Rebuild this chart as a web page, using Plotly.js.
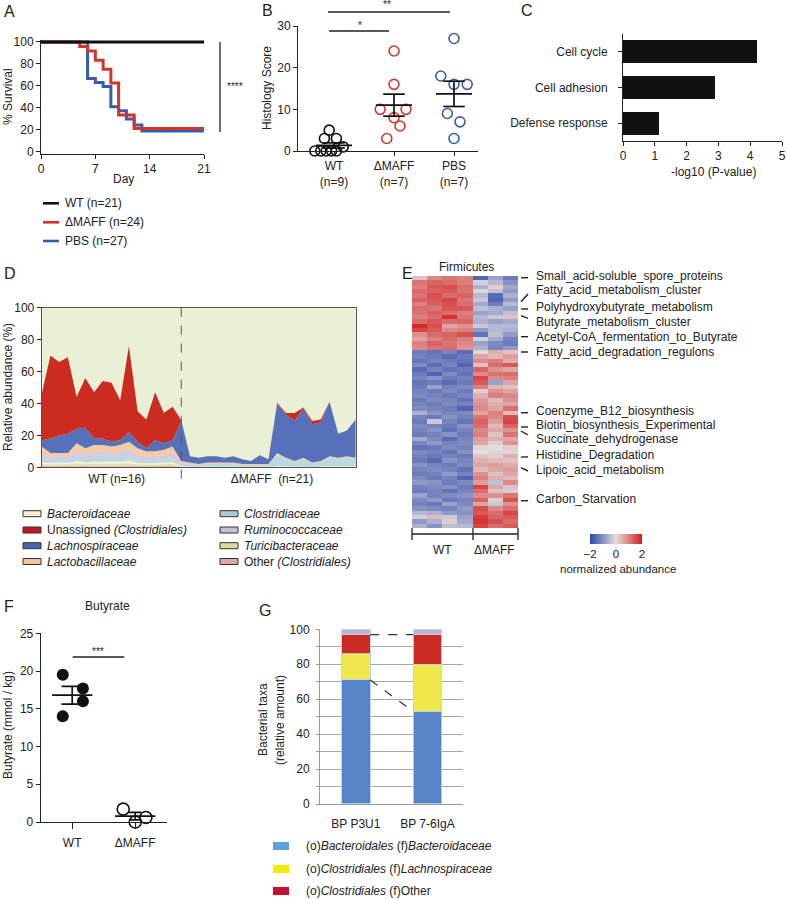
<!DOCTYPE html>
<html><head><meta charset="utf-8">
<script src="https://cdn.plot.ly/plotly-3.0.1.min.js"></script>
<style>html,body{margin:0;padding:0;background:#fff}#g{width:787px;height:900px}</style>
</head><body><div id="g"></div>
<script>
// ---------- DATA ----------
// A: survival (Kaplan-Meier steps)
const survDaysWT = [0, 21];
const survWT = [100, 100];
const survDaysMAFF = [0, 5, 6, 7, 8, 9, 10, 12, 21];
const survMAFF = [100, 95.8, 91.7, 83.3, 75, 62.5, 33.3, 20.8, 20.8];
const survDaysPBS = [0, 6, 7, 8, 9, 10, 11, 12, 13, 21];
const survPBS = [100, 66.7, 63, 59.3, 40.7, 37, 29.6, 24, 18.5, 18.5];
const survLegend = ['WT (n=21)', 'ΔMAFF (n=24)', 'PBS (n=27)'];

// B: histology score
const histCats = ['WT<br>(n=9)', 'ΔMAFF<br>(n=7)', 'PBS<br>(n=7)'];
const histWT = [0, 0, 0, 0, 0, 1, 3, 3, 5];
const histWTjit = [-0.32, -0.22, -0.13, -0.04, 0.04, 0.155, -0.16, 0.04, -0.08];
const histMAFF = [24, 16, 10, 10, 8, 6, 3];
const histMAFFjit = [0, 0, -0.23, 0.2, 0, 0.1, -0.12];
const histPBS = [27, 18, 16, 16, 9, 7, 3];
const histPBSjit = [0, -0.22, 0, 0.22, -0.11, 0.1, 0];

// C: GO terms
const goTerms = ['Cell cycle', 'Cell adhesion', 'Defense response'];
const goLogP = [4.2, 2.88, 1.12];

// D: relative abundance (37 samples: 16 WT + 21 ΔMAFF)
const samples = [0,1,2,3,4,5,6,7,8,9,10,11,12,13,14,15,16,17,18,19,20,21,22,23,24,25,26,27,28,29,30,31,32,33,34,35,36];
const abOther = [1.0,0.8,0.9,0.8,1.0,0.9,1.0,0.8,1.0,0.9,1.1,0.8,0.7,0.8,0.9,1.0,0.4, 0.3,0.2,0.3,0.3,0.3,0.3,0.2,0.2,0.2,0.2,0.4,0.3,0.3,0.3,0.2,0.3,0.4,0.3,0.4,0.3];
const abTurici = [1.2,0.9,1.0,1.1,1.4,1.0,1.3,1.2,1.1,1.3,1.5,1.0,0.9,1.0,1.0,1.2,0.3, 0.2,0.1,0.2,0.2,0.2,0.2,0.1,0.1,0.1,0.1,0.3,0.2,0.2,0.2,0.1,0.2,0.3,0.2,0.3,0.2];
const abBacteroid = [1.0,1.2,1.3,1.0,1.5,1.2,1.4,1.6,1.2,1.4,1.6,1.1,0.9,0.9,1.0,1.1,0.3, 0.2,0.1,0.2,0.2,0.2,0.2,0.1,0.1,0.1,0.1,0.3,0.2,0.2,0.2,0.1,0.2,0.3,0.2,0.3,0.2];
const abClostridiaceae = [2.3,1.8,1.5,1.6,2.6,2.2,2.5,2.8,2.4,2.6,2.9,2.0,1.8,1.9,2.0,2.3,1.0, 1.2,0.8,1.3,1.4,1.3,1.4,0.9,0.9,0.8,0.9,6.8,4.5,2.6,4.4,2.0,2.6,4.6,3.9,4.8,4.1];
const abRumino = [2.5,2.1,2.3,2.2,3.5,2.7,3.6,3.4,3.0,3.3,4.0,2.8,2.4,2.3,2.6,3.0,0.8, 0.1,0.1,0.1,0.1,0.1,0.1,0.1,0.1,0.1,0.1,0.3,0.3,0.2,0.3,0.2,0.2,0.3,0.3,0.3,0.3];
const abLacto = [5.0,2.2,2.0,2.3,5.0,4.0,4.2,4.2,4.3,4.5,4.9,4.3,3.3,3.1,3.5,4.4,1.2, 1.0,0.7,0.9,0.8,0.9,0.8,0.6,0.6,0.7,0.6,0.9,0.5,0.5,0.6,0.4,0.5,1.1,1.1,0.9,0.9];
const abLachno = [4,9,11,12,9,13,4,4,3,3,6,4,2,7,4,4,25, 4,4,4,4,3,4,3,2,5.5,3,31,27,25,31,24,24,34,15,16,24];
const abUnassigned = [29,52,46,48,20,31,29,36,37,25,54,19,18,30,19,21,0.5, 0,0,0,0,0,0,0,0,0,0,0.5,1,5,0.5,2,2,0,0,0,0];
const abGroups = ['WT (n=16)', 'ΔMAFF  (n=21)'];

// E: heatmap (rows x 7 samples: 4 WT, 3 ΔMAFF)
const heatZ = [
[0.3,0.9,1.1,1.0,-1.6,-0.8,-1.3],
[1.1,1.3,1.2,1.0,-0.2,-0.5,-1.0],
[1.0,1.4,1.5,1.2,-0.6,0.2,-0.7],
[1.2,1.3,1.4,1.1,-0.1,-0.4,-0.9],
[1.1,1.5,1.2,1.3,-0.5,-1.5,-0.6],
[1.3,1.4,1.6,1.1,-0.3,-1.6,-0.9],
[1.0,1.3,1.5,1.2,-0.7,-1.3,-0.5],
[1.2,1.1,1.4,1.4,-0.4,-0.6,-0.8],
[1.1,1.3,1.2,1.0,-0.8,-0.7,-0.4],
[1.0,1.2,1.8,1.1,-0.5,-0.3,0.3],
[1.2,1.4,1.2,1.3,-0.6,-0.8,-0.7],
[1.9,1.5,0.6,0.8,-0.3,-0.5,-0.5],
[1.6,1.4,0.9,1.0,-0.9,-0.5,-0.6],
[0.8,1.2,1.3,1.5,-1.4,-0.4,-0.9],
[0.6,1.0,1.2,1.0,-0.2,-0.7,-1.2],
[1.0,1.3,1.1,0.9,-0.8,-1.1,-1.3],
[0.9,1.1,1.2,0.8,-0.6,-1.2,-0.9],
[-1.3,-1.4,-1.2,-1.5,0.1,0.5,0.3],
[-1.2,-1.3,-1.5,-1.3,0.6,0.4,0.7],
[-1.4,-1.2,-1.3,-1.4,0.9,1.0,0.5],
[-1.1,-1.5,-1.2,-1.6,0.3,1.2,1.4],
[-1.5,-1.2,-1.4,-1.3,1.3,0.8,0.6],
[-1.3,-1.6,-1.1,-1.4,0.9,1.1,1.2],
[-1.2,-1.0,-1.3,-1.2,1.6,0.9,1.0],
[-1.4,-1.3,-1.5,-1.3,1.4,-0.8,0.6],
[-1.3,-0.8,-1.2,-1.1,1.0,0.4,0.3],
[-1.2,-1.3,-1.1,-1.3,0.2,0.8,0.6],
[-1.1,-1.2,-1.3,-1.2,0.5,1.0,0.9],
[-1.3,-1.1,-1.2,-1.4,0.7,0.4,0.8],
[-1.2,-1.3,-1.1,-1.2,0.8,0.5,0.6],
[-1.1,-1.2,-1.3,-1.6,0.9,0.6,1.2],
[-0.6,-1.0,-1.2,-1.1,0.6,1.0,0.4],
[-1.2,-1.3,-1.0,-1.2,1.1,0.9,1.5],
[-1.3,-0.3,-1.2,-1.4,1.3,0.7,1.6],
[-1.1,-1.2,-1.3,-1.0,1.2,0.4,1.3],
[-1.2,-1.0,-1.4,-1.2,0.9,0.6,0.8],
[-1.3,-1.2,-1.0,-1.3,1.0,0.3,1.1],
[-0.7,-1.1,-1.5,-1.2,0.7,0.5,0.6],
[-1.2,-0.9,-1.2,-1.1,0.6,0.2,0.8],
[-1.4,-1.3,-1.1,-1.2,0.1,0.0,0.2],
[-1.1,-1.2,-1.4,-1.0,0.0,0.1,-0.1],
[-1.2,-1.3,-1.2,-1.3,0.3,0.2,0.5],
[-1.3,-1.5,-1.0,-1.2,0.5,0.4,0.3],
[-1.0,-1.2,-1.3,-1.1,0.6,0.7,0.5],
[-1.2,-1.1,-1.2,-1.4,0.4,0.6,0.7],
[-1.3,-1.2,-0.9,-1.2,0.8,0.3,0.6],
[-1.1,-1.3,-1.2,-1.6,1.0,0.5,0.4],
[-0.9,-1.0,-1.3,-1.1,0.7,-0.4,0.9],
[-1.2,-1.1,-1.0,-1.3,1.6,0.6,0.3],
[-1.3,-1.2,-1.4,-1.2,1.2,0.3,-0.2],
[-0.8,-1.2,-1.1,-1.0,0.9,0.8,1.1],
[-1.1,-0.9,-1.3,-1.2,1.3,0.2,1.5],
[-1.2,-1.3,-0.8,-1.1,0.6,-0.3,0.8],
[-1.0,-1.1,-1.2,-0.9,1.5,0.9,1.2],
[-0.5,-0.6,-0.9,-1.0,1.4,1.2,1.6],
[-0.2,0.4,-0.3,-0.8,1.7,1.3,1.4],
[-0.9,-0.6,0.2,-0.7,1.8,1.5,1.2],
[-0.6,-1.0,-0.4,-0.5,1.6,1.2,1.4]
];
const heatLabels = ['Small_acid-soluble_spore_proteins','Fatty_acid_metabolism_cluster','Polyhydroxybutyrate_metabolism','Butyrate_metabolism_cluster','Acetyl-CoA_fermentation_to_Butyrate','Fatty_acid_degradation_regulons','Coenzyme_B12_biosynthesis','Biotin_biosynthesis_Experimental','Succinate_dehydrogenase','Histidine_Degradation','Lipoic_acid_metabolism','Carbon_Starvation'];

// F: butyrate
const butCats = ['WT', 'ΔMAFF'];
const butWT = [19.5, 14, 17.7, 16];
const butWTjit = [-0.15, -0.15, 0.17, 0.17];
const butMAFF = [1.7, 0, 0.6];
const butMAFFjit = [-0.19, 0, 0.17];

// G: bacterial taxa
const taxaCats = ['BP P3U1', 'BP 7-6IgA'];
const taxaBacteroidaceae = [71, 53];
const taxaLachno = [15, 27];
const taxaOther = [11, 17];
const taxaRest = [3, 3];

// ---------- HELPERS ----------
const W = 787, H = 900;
const F = 'Liberation Sans, Arial, Helvetica, sans-serif';
const INK = '#222';
const FS = 12;
const px = x => x / W, py = y => 1 - y / H;
const dX = (a, b) => [a / W, b / W];
const dY = (t, b) => [1 - b / H, 1 - t / H];
const anns = [], shapes = [];
function T(text, x, y, o) {
  o = o || {};
  anns.push({text, x: px(x), y: py(y), xref: 'paper', yref: 'paper', showarrow: false,
    xanchor: o.xa || 'left', yanchor: o.ya || 'middle', textangle: o.rot || 0,
    font: {family: F, size: o.size || FS, color: o.color || INK}});
}
function L(x0, y0, x1, y1, o) {
  o = o || {};
  shapes.push({type: 'line', xref: 'paper', yref: 'paper', x0: px(x0), y0: py(y0), x1: px(x1), y1: py(y1),
    line: {color: o.color || INK, width: o.width || 1.5, dash: o.dash || 'solid'}});
}
function R(x0, y0, x1, y1, fill, lc) {
  shapes.push({type: 'rect', xref: 'paper', yref: 'paper', x0: px(x0), y0: py(y1), x1: px(x1), y1: py(y0),
    fillcolor: fill, line: {color: lc || fill, width: lc ? 1 : 0}});
}
function ax(domain, extra) {
  return Object.assign({domain, showline: true, linecolor: INK, linewidth: 1, ticks: 'outside', ticklen: 4,
    tickwidth: 1, tickcolor: INK, showgrid: false, zeroline: false, fixedrange: true,
    tickfont: {family: F, size: FS, color: INK}}, extra);
}
const mean = a => a.reduce((s, v) => s + v, 0) / a.length;
const sem = a => { const m = mean(a); return Math.sqrt(a.reduce((s, v) => s + (v - m) * (v - m), 0) / (a.length - 1) / a.length); };
function meanSem(vals, c, half, cap, xa, ya) {
  const m = mean(vals), s = sem(vals);
  return {x: [c - half, c + half, null, c, c, null, c - cap, c + cap, null, c - cap, c + cap],
    y: [m, m, null, m - s, m + s, null, m + s, m + s, null, m - s, m - s],
    xaxis: xa, yaxis: ya, mode: 'lines', line: {color: '#111', width: 1.7}, hoverinfo: 'skip'};
}

const traces = [];
// ---------- A ----------
traces.push({x: survDaysPBS, y: survPBS, xaxis: 'x', yaxis: 'y', mode: 'lines', line: {shape: 'hv', color: '#3a5bab', width: 3}});
traces.push({x: survDaysMAFF, y: survMAFF, xaxis: 'x', yaxis: 'y', mode: 'lines', line: {shape: 'hv', color: '#d1352b', width: 3}});
traces.push({x: survDaysWT, y: survWT, xaxis: 'x', yaxis: 'y', mode: 'lines', line: {shape: 'hv', color: '#111', width: 3}});

// ---------- B ----------
const bCol = ['#111', '#d0392e', '#3d5fa8'];
[[histWT, histWTjit], [histMAFF, histMAFFjit], [histPBS, histPBSjit]].forEach(([v, j], i) => {
  traces.push({x: j.map(d => i + d), y: v, xaxis: 'x2', yaxis: 'y2', mode: 'markers', cliponaxis: false,
    marker: {symbol: 'circle-open', size: 10, color: bCol[i], line: {width: 1.6, color: bCol[i]}}});
  traces.push(meanSem(v, i, 0.3, 0.18, 'x2', 'y2'));
});

// ---------- C ----------
traces.push({type: 'bar', orientation: 'h', x: goLogP, y: [0, 1, 2], xaxis: 'x3', yaxis: 'y3', width: 0.64,
  marker: {color: '#111'}});

// ---------- D ----------
const dLayers = [
  [abOther, '#eab2b8'], [abTurici, '#dfe3a2'], [abBacteroid, '#f4f1d2'], [abClostridiaceae, '#b9d9e3'],
  [abRumino, '#d3cbe3'], [abLacto, '#f3cba6'], [abLachno, '#5670b9'], [abUnassigned, '#cc2b20']];
dLayers.forEach(([v, c]) => traces.push({x: samples, y: v, xaxis: 'x4', yaxis: 'y4', mode: 'lines',
  stackgroup: 'd', line: {width: 0, color: c}, fillcolor: c, hoverinfo: 'skip'}));

// ---------- E ----------
traces.push({type: 'heatmap', z: heatZ, xaxis: 'x5', yaxis: 'y5', zmin: -2, zmax: 2,
  colorscale: [[0, '#2c46a8'], [0.5, '#e3dfdf'], [1, '#d41f1f']],
  colorbar: {orientation: 'h', x: px(616), xanchor: 'center', y: py(534), yanchor: 'top', xpad: 0, ypad: 0,
    len: 52, lenmode: 'pixels', thickness: 10, thicknessmode: 'pixels', outlinewidth: 0,
    tickvals: [-2, 0, 2], ticks: '', tickfont: {family: F, size: 11.5, color: INK}}});

// ---------- F ----------
traces.push({x: butWTjit.map(d => 0 + d), y: butWT, xaxis: 'x6', yaxis: 'y6', mode: 'markers', cliponaxis: false,
  marker: {size: 12, color: '#111'}});
traces.push({x: butMAFFjit.map(d => 1 + d), y: butMAFF, xaxis: 'x6', yaxis: 'y6', mode: 'markers', cliponaxis: false,
  marker: {symbol: 'circle-open', size: 12, color: '#111', line: {width: 1.6, color: '#111'}}});
traces.push(meanSem(butWT, 0, 0.32, 0.17, 'x6', 'y6'));
traces.push(meanSem(butMAFF, 1, 0.32, 0.1, 'x6', 'y6'));

// ---------- G ----------
[[taxaBacteroidaceae, '#5585c6'], [taxaLachno, '#efe84c'], [taxaOther, '#cb2b23'], [taxaRest, '#bdb6cf']].forEach(([v, c]) =>
  traces.push({type: 'bar', x: [0, 1], y: v, xaxis: 'x7', yaxis: 'y7', width: 0.4,
    marker: {color: c, line: {color: 'rgba(190,210,240,0.9)', width: 1}}}));
const gTopRed = taxaBacteroidaceae.map((b, i) => b + taxaLachno[i] + taxaOther[i]);
shapes.push({type: 'line', xref: 'x7', yref: 'y7', x0: 0.2, x1: 0.8, y0: gTopRed[0], y1: gTopRed[1], line: {color: '#333', width: 1.2, dash: 'dash'}});
shapes.push({type: 'line', xref: 'x7', yref: 'y7', x0: 0.2, x1: 0.8, y0: taxaBacteroidaceae[0], y1: taxaBacteroidaceae[1], line: {color: '#333', width: 1.2, dash: 'dash'}});

// ---------- DECORATIONS ----------
// panel labels
T('A', 2, 1, {size: 16, ya: 'top'}); T('B', 260, 0, {size: 16, ya: 'top'}); T('C', 519, 0, {size: 16, ya: 'top'});
T('D', 2, 273, {size: 16}); T('E', 400, 273, {size: 16}); T('F', 2, 606, {size: 16}); T('G', 257, 610, {size: 16});
// A
T('% Survival', 8, 97, {rot: -90, xa: 'center'});
T('Day', 123, 179, {xa: 'center'});
L(220, 42, 220, 132, {width: 1.3});
T('****', 235, 86, {xa: 'center', size: 10});
const legCol = ['#111', '#d1352b', '#3a5bab'], legY = [203.3, 222.3, 241];
survLegend.forEach((t, i) => { L(43, legY[i], 59, legY[i], {color: legCol[i], width: 2.6}); T(t, 62.5, legY[i]); });
// B
T('Histology Score', 267, 88, {rot: -90, xa: 'center'});
L(329, 31, 389, 31); T('*', 360, 26, {xa: 'center', size: 10});
L(328, 12, 450, 12); T('**', 387, 5, {xa: 'center', size: 10});
// C
T('-log10 (P-value)', 713, 172, {xa: 'center'});
// D
T('Relative abundance (%)', 8, 387, {rot: -90, xa: 'center'});
shapes.push({type: 'rect', xref: 'x4 domain', yref: 'y4 domain', x0: 0, x1: 1, y0: 0, y1: 1, layer: 'below',
  fillcolor: '#e9f0d6', line: {width: 0}});
shapes.push({type: 'line', xref: 'x4', yref: 'paper', x0: 16, x1: 16, y0: py(307.7), y1: py(487),
  line: {color: '#555', width: 1, dash: 'dash'}});
const dLeg = [
  ['<i>Bacteroidaceae</i>', '#f4f1d2', 23, 513.7], ['Unassigned <i>(Clostridiales)</i>', '#c0182a', 23, 530],
  ['<i>Lachnospiraceae</i>', '#4a66b0', 23, 545.7], ['<i>Lactobacillaceae</i>', '#f3c59c', 23, 561.5],
  ['<i>Clostridiaceae</i>', '#a9cbd3', 220, 513.7], ['<i>Ruminococcaceae</i>', '#c6bfd9', 220, 530],
  ['<i>Turicibacteraceae</i>', '#d7dc9a', 220, 545.7], ['Other <i>(Clostridiales)</i>', '#e4a3ab', 220, 561.5]];
dLeg.forEach(([t, c, x, y]) => { R(x, y - 3, x + 18, y + 3, c, '#333'); T(t, x + 22, y); });
// E
T('Firmicutes', 466, 267, {xa: 'center'});
const eLab = [[275.5, 277.7, 277.7], [290, 301.7, 294], [307, 309, 309], [322, 315.7, 318.3], [336.5, 336.7, 336.7],
  [352, 352, 352], [411, 412.7, 412.7], [425, 427, 427], [439, 431, 435], [455, 457, 457], [470, 467.7, 471], [498.5, 500.7, 500.7]];
heatLabels.forEach((t, i) => { const [ty, l0, l1] = eLab[i]; L(521, l0, 528, l1, {width: 1.4}); T(t, 534, ty); });
L(412, 534, 518, 534, {width: 1.3});
[412, 473, 518].forEach(x => L(x, 528, x, 540, {width: 1.3}));
T('WT', 442, 550, {xa: 'center'}); T('ΔMAFF', 494, 550, {xa: 'center'});
T('normalized abundance', 618, 569, {xa: 'center', size: 11.5});
// F
T('Butyrate', 107, 606, {xa: 'center'});
T('Butyrate (mmol / kg)', 8, 725, {rot: -90, xa: 'center'});
L(72.7, 657, 124.3, 657); T('***', 98, 651, {xa: 'center', size: 10});
// G
T('Bacterial taxa', 263, 720, {rot: -90, xa: 'center'});
T('(relative amount)', 280, 720, {rot: -90, xa: 'center'});
const gLeg = [['(o)<i>Bacteroidales</i> (f)<i>Bacteroidaceae</i>', '#5ba1dc', 846],
  ['(o)<i>Clostridiales</i> (f)<i>Lachnospiraceae</i>', '#f3ee00', 869],
  ['(o)<i>Clostridiales</i> (f)Other', '#c8102e', 891]];
gLeg.forEach(([t, c, y]) => { R(273, y - 4, 289, y + 4, c); T(t, 304, y); });

// ---------- LAYOUT ----------
const layout = {
  width: W, height: H, margin: {l: 0, r: 0, t: 0, b: 0}, paper_bgcolor: '#fff', plot_bgcolor: 'rgba(0,0,0,0)',
  showlegend: false, barmode: 'stack', font: {family: F, size: FS, color: INK},
  // A
  xaxis: ax(dX(41, 204), {anchor: 'y', range: [0, 21], tickvals: [0, 7, 14, 21]}),
  yaxis: ax(dY(39.8, 153.5), {anchor: 'x', range: [-2, 102], tickvals: [0, 20, 40, 60, 80, 100]}),
  // B
  xaxis2: ax(dX(298, 478), {anchor: 'y2', range: [-0.6, 2.4], tickvals: [0, 1, 2], ticktext: histCats}),
  yaxis2: ax(dY(26, 151), {anchor: 'x2', range: [0, 30], tickvals: [0, 10, 20, 30]}),
  // C
  xaxis3: ax(dX(623, 782), {anchor: 'y3', range: [0, 5], tickvals: [0, 1, 2, 3, 4, 5]}),
  yaxis3: ax(dY(34, 141), {anchor: 'x3', range: [2.5, -0.5], tickvals: [0, 1, 2], ticktext: goTerms, ticklabelstandoff: 8}),
  // D
  xaxis4: ax(dX(41.7, 355.7), {anchor: 'y4', range: [0, 36], tickvals: [8.6, 26.4], ticktext: abGroups, ticks: '',
    mirror: true, linecolor: '#555'}),
  yaxis4: ax(dY(307.7, 467.3), {anchor: 'x4', range: [0, 100], tickvals: [0, 20, 40, 60, 80, 100], mirror: true, linecolor: '#555'}),
  // E
  xaxis5: {domain: dX(412, 518), anchor: 'y5', range: [-0.5, 6.5], visible: false, fixedrange: true},
  yaxis5: {domain: dY(276, 528), anchor: 'x5', range: [heatZ.length - 0.5, -0.5], visible: false, fixedrange: true},
  // F
  xaxis6: ax(dX(40.7, 166.7), {anchor: 'y6', range: [-0.5, 1.5], tickvals: [0, 1], ticktext: butCats, ticklen: 6, ticklabelstandoff: 4}),
  yaxis6: ax(dY(633.3, 822), {anchor: 'x6', range: [0, 25], tickvals: [0, 5, 10, 15, 20, 25]}),
  // G
  xaxis7: ax(dX(320, 463.3), {anchor: 'y7', range: [-0.5, 1.5], tickvals: [0, 1], ticktext: taxaCats, ticks: '',
    linecolor: '#999', ticklabelstandoff: 9}),
  yaxis7: ax(dY(629.3, 804), {anchor: 'x7', range: [0, 100], tickvals: [0, 20, 40, 60, 80, 100], linecolor: '#999',
    tickcolor: '#999', ticklen: 3, showgrid: true, gridcolor: '#a5a5a5', gridwidth: 1,
    minor: {dtick: 10, showgrid: true, gridcolor: '#a5a5a5', gridwidth: 1, ticks: 'outside', ticklen: 3, tickcolor: '#999'},
    ticklabelstandoff: 4}),
  annotations: anns, shapes: shapes
};
Plotly.newPlot('g', traces, layout, {staticPlot: true, displayModeBar: false});
</script></body></html>
